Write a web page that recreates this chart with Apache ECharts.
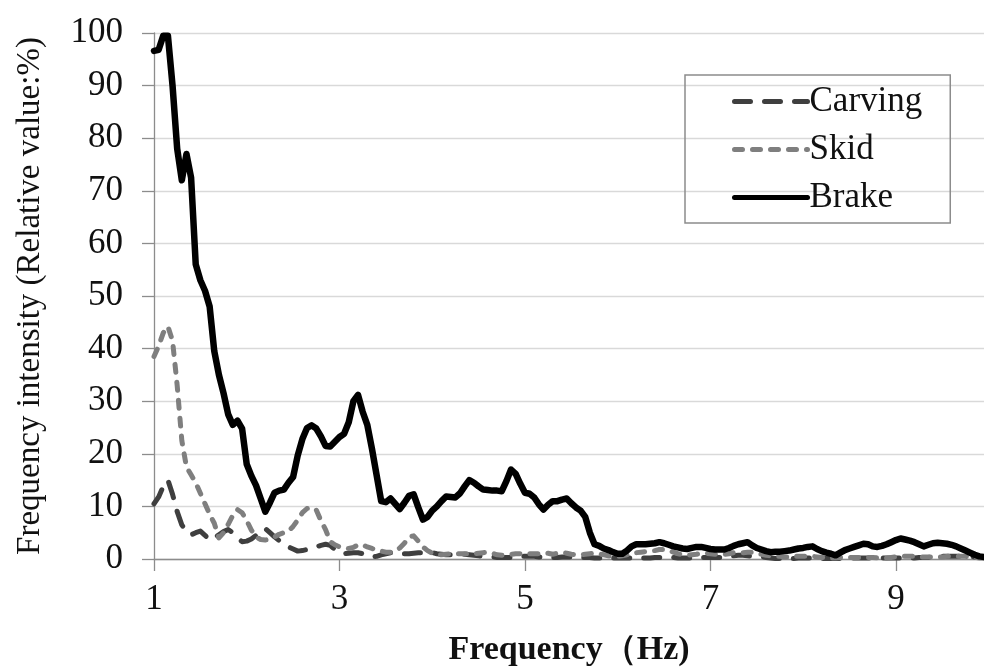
<!DOCTYPE html>
<html>
<head>
<meta charset="utf-8">
<script src="https://cdn.jsdelivr.net/npm/echarts@6/dist/echarts.min.js"></script>
<style>html,body{margin:0;padding:0;background:#fff}#c{width:984px;height:670px}</style>
</head>
<body>
<div id="c"></div>
<script>
// Frequency (Hz) sampling points
const frequencies = [
1,1.05,1.1,1.15,1.2,1.25,1.3,1.35,1.4,1.45,1.5,1.55,1.6,1.65,1.7,1.75,1.8,1.85,1.9,1.95,
2,2.05,2.1,2.15,2.2,2.25,2.3,2.35,2.4,2.45,2.5,2.55,2.6,2.65,2.7,2.75,2.8,2.85,2.9,2.95,
3,3.05,3.1,3.15,3.2,3.25,3.3,3.35,3.4,3.45,3.5,3.55,3.6,3.65,3.7,3.75,3.8,3.85,3.9,3.95,
4,4.05,4.1,4.15,4.2,4.25,4.3,4.35,4.4,4.45,4.5,4.55,4.6,4.65,4.7,4.75,4.8,4.85,4.9,4.95,
5,5.05,5.1,5.15,5.2,5.25,5.3,5.35,5.4,5.45,5.5,5.55,5.6,5.65,5.7,5.75,5.8,5.85,5.9,5.95,
6,6.05,6.1,6.15,6.2,6.25,6.3,6.35,6.4,6.45,6.5,6.55,6.6,6.65,6.7,6.75,6.8,6.85,6.9,6.95,
7,7.05,7.1,7.15,7.2,7.25,7.3,7.35,7.4,7.45,7.5,7.55,7.6,7.65,7.7,7.75,7.8,7.85,7.9,7.95,
8,8.05,8.1,8.15,8.2,8.25,8.3,8.35,8.4,8.45,8.5,8.55,8.6,8.65,8.7,8.75,8.8,8.85,8.9,8.95,
9,9.05,9.1,9.15,9.2,9.25,9.3,9.35,9.4,9.45,9.5,9.55,9.6,9.65,9.7,9.75,9.8,9.85,9.9,9.95
];
const xTickLabels = ['1','3','5','7','9'];
const yTicks = [0,10,20,30,40,50,60,70,80,90,100];

const carving = [
10.5,11.8,13.8,15,12.3,9,6.5,5.2,4.6,5,
5.3,4.5,3.6,4,4.6,5.2,5.6,5,4,3.3,
3.4,3.8,4.5,5.2,5.8,5,4.2,3.5,2.8,2.3,
1.9,1.5,1.6,1.8,2,2.3,2.6,2.8,2.6,1.8,
1.2,1,1.1,1.2,1.2,1,0.8,0.4,0.5,0.8,
1,1.2,1.2,1.1,1,1,1.1,1.2,1.2,1.3,
1.2,1,0.9,0.8,0.8,0.8,0.8,0.9,0.8,0.7,
0.6,0.5,0.5,0.4,0.3,0.3,0.3,0.3,0.4,0.5,
0.5,0.5,0.5,0.4,0.4,0.3,0.3,0.3,0.4,0.4,
0.4,0.3,0.3,0.3,0.3,0.2,0.2,0.2,0.2,0.2,
0.2,0.2,0.2,0.2,0.2,0.2,0.2,0.2,0.3,0.3,
0.3,0.3,0.3,0.2,0.2,0.2,0.2,0.3,0.3,0.3,
0.3,0.3,0.3,0.4,0.5,0.6,0.7,0.7,0.6,0.5,
0.5,0.4,0.3,0.2,0.1,0.1,0.1,0.1,0.1,0.2,
0.2,0.2,0.2,0.1,0.1,0.1,0.1,0.1,0.1,0.2,
0.2,0.2,0.2,0.2,0.2,0.2,0.2,0.2,0.2,0.2,
0.2,0.2,0.2,0.2,0.2,0.3,0.3,0.3,0.4,0.4,
0.5,0.5,0.5,0.5,0.5,0.5,0.5,0.4,0.3,0.3
];

const skid = [
38.5,40.5,43,44.2,41.5,33,22.5,17.5,16,14.5,
12.5,10.5,8.5,6.8,4,5,6.6,8.3,9.4,8.8,
7.3,5.5,4.2,3.7,3.6,3.8,4.2,4.7,5,5.3,
6.2,7.4,8.8,9.6,9.8,9.3,7.3,5.6,3.3,2.7,
2.3,2.1,2,2.2,2.7,2.7,2.3,2,1.7,1.5,
1.3,1.3,1.5,2.1,3,4.2,4.4,3.4,2.3,1.6,
1.1,0.8,0.8,0.9,1,1,1,1,1,1,
1.1,1.2,1.3,1.1,0.8,0.7,0.8,0.9,1,1,
1,1,1,1,1.1,1.1,0.9,1.1,1.2,1.1,
0.9,0.8,0.8,0.9,1,1.1,1,0.8,0.6,0.5,
0.5,0.6,0.8,1,1.2,1.3,1.4,1.5,1.6,1.8,
1.8,1.6,1.3,1,0.8,0.7,0.8,0.9,1.1,1.1,
1,0.9,0.8,0.9,1,1.2,1.2,1.2,1.3,1.3,
1.1,0.9,0.7,0.6,0.5,0.5,0.4,0.4,0.5,0.5,
0.5,0.5,0.5,0.4,0.3,0.2,0.2,0.2,0.3,0.3,
0.3,0.3,0.3,0.3,0.3,0.3,0.2,0.2,0.2,0.3,
0.4,0.5,0.5,0.5,0.5,0.4,0.4,0.4,0.4,0.4,
0.4,0.5,0.5,0.5,0.5,0.5,0.4,0.3,0.2,0.2
];

const brake = [
96.6,96.8,99.5,99.5,90,78,72,77,72.5,56,
53,51,48,39.5,35,31.5,27.5,25.5,26.3,24.8,
18,15.8,14,11.5,9,10.7,12.6,13,13.2,14.5,
15.6,19.7,22.8,24.9,25.4,24.8,23.3,21.5,21.4,22.3,
23.2,23.8,26,30,31.2,28,25.5,21,16,11,
10.8,11.5,10.5,9.5,10.7,12,12.3,9.8,7.5,8,
9.2,10,11,11.9,11.8,11.7,12.5,13.8,15,14.5,
13.8,13.2,13.1,13,13,12.9,14.8,17,16.2,14.3,
12.6,12.4,11.7,10.4,9.4,10.3,11,11,11.3,11.5,
10.6,9.8,9.2,8,5,2.8,2.5,2,1.7,1.3,
1,1,1.6,2.4,2.8,2.8,2.8,2.9,3,3.2,
3,2.7,2.4,2.2,2,1.9,2.1,2.3,2.3,2.1,
1.9,1.8,1.8,1.8,2.1,2.5,2.8,3,3.2,2.6,
2.1,1.8,1.5,1.3,1.4,1.4,1.5,1.6,1.8,2,
2.1,2.3,2.4,1.9,1.5,1.2,1,0.7,1.2,1.7,
2,2.3,2.6,2.9,2.8,2.4,2.3,2.5,2.8,3.2,
3.6,3.9,3.7,3.5,3.2,2.8,2.4,2.7,3,3.1,
3,2.9,2.7,2.4,2,1.6,1.2,0.8,0.5,0.4
];

const seriesNames = ['Carving','Skid','Brake'];
const yAxisTitle = 'Frequency intensity (Relative value:%)';
const xAxisTitle = 'Frequency（Hz)';

const serif = '"Liberation Serif", "DejaVu Serif", serif';
const chart = echarts.init(document.getElementById('c'), null, {renderer: 'canvas'});

chart.setOption({
  animation: false,
  backgroundColor: '#ffffff',
  textStyle: {fontFamily: serif},
  grid: {left: 154, right: 0, top: 33, bottom: 111, containLabel: false, outerBoundsMode: 'none'},
  legend: {
    data: seriesNames,
    orient: 'vertical',
    left: 685, top: 75,
    padding: [9, 28, 8, 47],
    itemGap: 13,
    itemWidth: 73,
    itemHeight: 26,
    borderColor: '#8c8c8c',
    borderWidth: 1.5,
    itemStyle: {opacity: 0},
    lineStyle: {width: 5, cap: 'round'},
    textStyle: {fontFamily: serif, fontSize: 35, lineHeight: 34, color: '#111', padding: [0, 0, 0, -3]}
  },
  xAxis: {
    type: 'category',
    data: frequencies,
    boundaryGap: false,
    name: xAxisTitle,
    nameLocation: 'middle',
    nameGap: 74,
    nameTextStyle: {fontFamily: serif, fontSize: 34, fontWeight: 'bold', color: '#111'},
    axisLine: {show: true, lineStyle: {color: '#8c8c8c', width: 1.3}},
    axisTick: {show: true, inside: false, length: 12, lineStyle: {color: '#8c8c8c', width: 1.3},
      interval: function (idx) { return idx % 40 === 0; }},
    axisLabel: {
      interval: function (idx) { return idx % 40 === 0; },
      margin: 23,
      fontFamily: serif, fontSize: 35, color: '#111',
      formatter: function (v) {
        const s = String(Number(v));
        return xTickLabels.indexOf(s) >= 0 ? s : '';
      }
    },
    splitLine: {show: false}
  },
  yAxis: {
    type: 'value',
    min: 0, max: 100, interval: 10,
    name: yAxisTitle,
    nameLocation: 'middle',
    nameGap: 107,
    nameRotate: 90,
    nameTextStyle: {fontFamily: serif, fontSize: 33, color: '#111'},
    axisLine: {show: true, lineStyle: {color: '#8c8c8c', width: 1.3}},
    axisTick: {show: true, inside: false, length: 12, lineStyle: {color: '#8c8c8c', width: 1.3}},
    axisLabel: {
      margin: 31, fontFamily: serif, fontSize: 35, color: '#111',
      formatter: function (v) { return yTicks.indexOf(v) >= 0 ? String(v) : ''; }
    },
    splitLine: {show: true, lineStyle: {color: '#d9d9d9', width: 1.3}}
  },
  series: [
    {
      name: seriesNames[0], type: 'line', data: carving,
      showSymbol: false, symbol: 'none', clip: false, z: 2,
      lineStyle: {color: '#3f3f3f', width: 5, type: [16, 14], cap: 'round', join: 'round'},
      itemStyle: {color: '#3f3f3f'}
    },
    {
      name: seriesNames[1], type: 'line', data: skid,
      showSymbol: false, symbol: 'none', clip: false, z: 3,
      lineStyle: {color: '#7f7f7f', width: 5, type: [8, 10], cap: 'round', join: 'round'},
      itemStyle: {color: '#7f7f7f'}
    },
    {
      name: seriesNames[2], type: 'line', data: brake,
      showSymbol: false, symbol: 'none', clip: false, z: 4,
      lineStyle: {color: '#000000', width: 6.5, type: 'solid', cap: 'round', join: 'round'},
      itemStyle: {color: '#000000'}
    }
  ]
});
</script>
</body>
</html>
